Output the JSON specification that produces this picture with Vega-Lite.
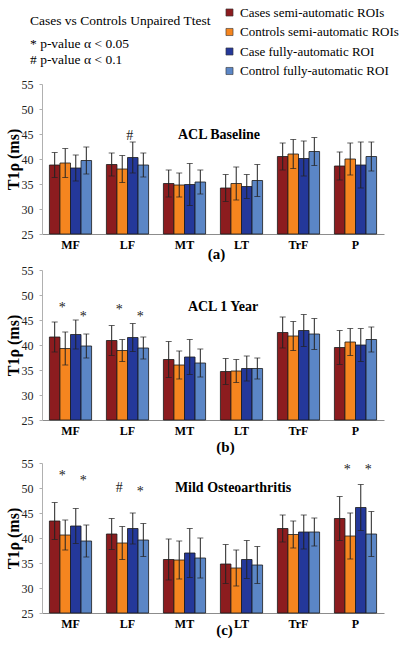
{
  "$schema": "https://vega.github.io/schema/vega-lite/v6.json",
  "padding": {"top": 6, "left": 5, "right": 5, "bottom": 5},
  "background": "white",
  "spacing": 3,
  "title": {"text": "Cases vs Controls Unpaired Ttest", "subtitle": ["*  p-value α < 0.05", "#  p-value α < 0.1"], "anchor": "start", "frame": "bounds", "dx": 25, "offset": -60, "font": "Liberation Serif", "fontSize": 13.5, "fontWeight": "normal", "color": "#000", "subtitleFont": "Liberation Serif", "subtitleFontSize": 13.5, "subtitleColor": "#000", "subtitlePadding": 9, "subtitleLineHeight": 16},
  "resolve": {"scale": {"color": "shared"}},
  "datasets": {
    "bars": [
      {"p":"a","r":"MF","s":"Cases semi-automatic ROIs","v":38.8,"lo":36.3,"hi":41.3},
      {"p":"a","r":"MF","s":"Controls semi-automatic ROIs","v":39.2,"lo":36.3,"hi":42.1},
      {"p":"a","r":"MF","s":"Case fully-automatic ROI","v":38.2,"lo":35.6,"hi":40.8},
      {"p":"a","r":"MF","s":"Control fully-automatic ROI","v":39.7,"lo":37.0,"hi":42.4},
      {"p":"a","r":"LF","s":"Cases semi-automatic ROIs","v":38.9,"lo":36.6,"hi":41.2},
      {"p":"a","r":"LF","s":"Controls semi-automatic ROIs","v":38.0,"lo":35.3,"hi":40.7},
      {"p":"a","r":"LF","s":"Case fully-automatic ROI","v":40.3,"lo":37.2,"hi":43.4},
      {"p":"a","r":"LF","s":"Control fully-automatic ROI","v":38.8,"lo":36.4,"hi":41.2},
      {"p":"a","r":"MT","s":"Cases semi-automatic ROIs","v":35.1,"lo":32.4,"hi":37.8},
      {"p":"a","r":"MT","s":"Controls semi-automatic ROIs","v":34.8,"lo":32.4,"hi":37.2},
      {"p":"a","r":"MT","s":"Case fully-automatic ROI","v":34.9,"lo":30.7,"hi":39.1},
      {"p":"a","r":"MT","s":"Control fully-automatic ROI","v":35.4,"lo":33.0,"hi":37.8},
      {"p":"a","r":"LT","s":"Cases semi-automatic ROIs","v":34.2,"lo":31.5,"hi":36.9},
      {"p":"a","r":"LT","s":"Controls semi-automatic ROIs","v":35.1,"lo":31.8,"hi":38.4},
      {"p":"a","r":"LT","s":"Case fully-automatic ROI","v":34.5,"lo":32.1,"hi":36.9},
      {"p":"a","r":"LT","s":"Control fully-automatic ROI","v":35.7,"lo":32.5,"hi":38.9},
      {"p":"a","r":"TrF","s":"Cases semi-automatic ROIs","v":40.5,"lo":37.8,"hi":43.2},
      {"p":"a","r":"TrF","s":"Controls semi-automatic ROIs","v":41.0,"lo":38.1,"hi":43.9},
      {"p":"a","r":"TrF","s":"Case fully-automatic ROI","v":40.1,"lo":36.6,"hi":43.6},
      {"p":"a","r":"TrF","s":"Control fully-automatic ROI","v":41.5,"lo":38.7,"hi":44.3},
      {"p":"a","r":"P","s":"Cases semi-automatic ROIs","v":38.6,"lo":35.8,"hi":41.4},
      {"p":"a","r":"P","s":"Controls semi-automatic ROIs","v":40.0,"lo":36.8,"hi":43.2},
      {"p":"a","r":"P","s":"Case fully-automatic ROI","v":38.8,"lo":34.2,"hi":43.4},
      {"p":"a","r":"P","s":"Control fully-automatic ROI","v":40.5,"lo":37.6,"hi":43.4},
      {"p":"b","r":"MF","s":"Cases semi-automatic ROIs","v":41.6,"lo":38.6,"hi":44.6},
      {"p":"b","r":"MF","s":"Controls semi-automatic ROIs","v":39.3,"lo":36.0,"hi":42.6},
      {"p":"b","r":"MF","s":"Case fully-automatic ROI","v":42.1,"lo":39.2,"hi":45.0},
      {"p":"b","r":"MF","s":"Control fully-automatic ROI","v":39.8,"lo":37.4,"hi":42.2},
      {"p":"b","r":"LF","s":"Cases semi-automatic ROIs","v":40.9,"lo":37.9,"hi":43.9},
      {"p":"b","r":"LF","s":"Controls semi-automatic ROIs","v":38.9,"lo":36.7,"hi":41.1},
      {"p":"b","r":"LF","s":"Case fully-automatic ROI","v":41.5,"lo":38.7,"hi":44.3},
      {"p":"b","r":"LF","s":"Control fully-automatic ROI","v":39.4,"lo":37.2,"hi":41.6},
      {"p":"b","r":"MT","s":"Cases semi-automatic ROIs","v":37.1,"lo":33.5,"hi":40.7},
      {"p":"b","r":"MT","s":"Controls semi-automatic ROIs","v":36.0,"lo":33.2,"hi":38.8},
      {"p":"b","r":"MT","s":"Case fully-automatic ROI","v":37.6,"lo":34.1,"hi":41.1},
      {"p":"b","r":"MT","s":"Control fully-automatic ROI","v":36.4,"lo":33.6,"hi":39.2},
      {"p":"b","r":"LT","s":"Cases semi-automatic ROIs","v":34.7,"lo":32.1,"hi":37.3},
      {"p":"b","r":"LT","s":"Controls semi-automatic ROIs","v":34.8,"lo":32.5,"hi":37.1},
      {"p":"b","r":"LT","s":"Case fully-automatic ROI","v":35.3,"lo":32.8,"hi":37.8},
      {"p":"b","r":"LT","s":"Control fully-automatic ROI","v":35.3,"lo":33.2,"hi":37.4},
      {"p":"b","r":"TrF","s":"Cases semi-automatic ROIs","v":42.5,"lo":39.4,"hi":45.6},
      {"p":"b","r":"TrF","s":"Controls semi-automatic ROIs","v":41.8,"lo":38.9,"hi":44.7},
      {"p":"b","r":"TrF","s":"Case fully-automatic ROI","v":42.9,"lo":39.7,"hi":46.1},
      {"p":"b","r":"TrF","s":"Control fully-automatic ROI","v":42.2,"lo":39.1,"hi":45.3},
      {"p":"b","r":"P","s":"Cases semi-automatic ROIs","v":39.5,"lo":36.1,"hi":42.9},
      {"p":"b","r":"P","s":"Controls semi-automatic ROIs","v":40.6,"lo":37.9,"hi":43.3},
      {"p":"b","r":"P","s":"Case fully-automatic ROI","v":40.0,"lo":36.7,"hi":43.3},
      {"p":"b","r":"P","s":"Control fully-automatic ROI","v":41.1,"lo":38.6,"hi":43.6},
      {"p":"c","r":"MF","s":"Cases semi-automatic ROIs","v":43.4,"lo":39.7,"hi":47.1},
      {"p":"c","r":"MF","s":"Controls semi-automatic ROIs","v":40.6,"lo":37.6,"hi":43.6},
      {"p":"c","r":"MF","s":"Case fully-automatic ROI","v":42.4,"lo":38.9,"hi":45.9},
      {"p":"c","r":"MF","s":"Control fully-automatic ROI","v":39.4,"lo":36.2,"hi":42.6},
      {"p":"c","r":"LF","s":"Cases semi-automatic ROIs","v":40.8,"lo":37.7,"hi":43.9},
      {"p":"c","r":"LF","s":"Controls semi-automatic ROIs","v":39.0,"lo":35.7,"hi":42.3},
      {"p":"c","r":"LF","s":"Case fully-automatic ROI","v":41.9,"lo":38.8,"hi":45.0},
      {"p":"c","r":"LF","s":"Control fully-automatic ROI","v":39.6,"lo":36.3,"hi":42.9},
      {"p":"c","r":"MT","s":"Cases semi-automatic ROIs","v":35.7,"lo":31.6,"hi":39.8},
      {"p":"c","r":"MT","s":"Controls semi-automatic ROIs","v":35.6,"lo":31.8,"hi":39.4},
      {"p":"c","r":"MT","s":"Case fully-automatic ROI","v":37.0,"lo":32.1,"hi":41.9},
      {"p":"c","r":"MT","s":"Control fully-automatic ROI","v":36.0,"lo":32.0,"hi":40.0},
      {"p":"c","r":"LT","s":"Cases semi-automatic ROIs","v":34.8,"lo":30.9,"hi":38.7},
      {"p":"c","r":"LT","s":"Controls semi-automatic ROIs","v":34.0,"lo":30.4,"hi":37.6},
      {"p":"c","r":"LT","s":"Case fully-automatic ROI","v":35.7,"lo":31.9,"hi":39.5},
      {"p":"c","r":"LT","s":"Control fully-automatic ROI","v":34.6,"lo":30.9,"hi":38.3},
      {"p":"c","r":"TrF","s":"Cases semi-automatic ROIs","v":41.9,"lo":39.2,"hi":44.6},
      {"p":"c","r":"TrF","s":"Controls semi-automatic ROIs","v":40.7,"lo":38.0,"hi":43.4},
      {"p":"c","r":"TrF","s":"Case fully-automatic ROI","v":41.2,"lo":37.8,"hi":44.6},
      {"p":"c","r":"TrF","s":"Control fully-automatic ROI","v":41.2,"lo":38.4,"hi":44.0},
      {"p":"c","r":"P","s":"Cases semi-automatic ROIs","v":43.9,"lo":39.5,"hi":48.3},
      {"p":"c","r":"P","s":"Controls semi-automatic ROIs","v":40.4,"lo":35.8,"hi":45.0},
      {"p":"c","r":"P","s":"Case fully-automatic ROI","v":46.1,"lo":41.5,"hi":50.7},
      {"p":"c","r":"P","s":"Control fully-automatic ROI","v":40.8,"lo":36.3,"hi":45.3}
    ],
    "notes": [
      {"p":"a","r":"LF","s":"Case fully-automatic ROI","y":44.7,"t":"#"},
      {"p":"b","r":"MF","s":"Controls semi-automatic ROIs","y":47.4,"t":"*"},
      {"p":"b","r":"MF","s":"Control fully-automatic ROI","y":45.7,"t":"*"},
      {"p":"b","r":"LF","s":"Controls semi-automatic ROIs","y":47.0,"t":"*"},
      {"p":"b","r":"LF","s":"Control fully-automatic ROI","y":45.6,"t":"*"},
      {"p":"c","r":"MF","s":"Controls semi-automatic ROIs","y":52.4,"t":"*"},
      {"p":"c","r":"MF","s":"Control fully-automatic ROI","y":51.5,"t":"*"},
      {"p":"c","r":"LF","s":"Controls semi-automatic ROIs","y":50.0,"t":"#"},
      {"p":"c","r":"LF","s":"Control fully-automatic ROI","y":49.2,"t":"*"},
      {"p":"c","r":"P","s":"Controls semi-automatic ROIs","y":53.7,"t":"*"},
      {"p":"c","r":"P","s":"Control fully-automatic ROI","y":53.7,"t":"*"}
    ]
  },
  "vconcat": [
    {
      "width": 342, "height": 150,
      "title": {"text": "ACL  Baseline", "offset": -64, "dx": 6, "anchor": "middle", "frame": "group", "font": "Liberation Serif", "fontSize": 14, "fontWeight": "bold", "color": "#000"},
      "layer": [
        {"data": {"name": "bars"}, "transform": [{"filter": "datum.p === 'a'"}],
         "mark": {"type": "bar", "stroke": "#1a1a1a", "strokeWidth": 0.8},
         "encoding": {
           "x": {"field": "r", "type": "nominal", "sort": ["MF","LF","MT","LT","TrF","P"], "scale": {"paddingInner": 0.26, "paddingOuter": 0.13}, "axis": {"title": "(a)", "titleX": 174, "titlePadding": -4}},
           "xOffset": {"field": "s", "type": "nominal", "scale": {"domain": ["Cases semi-automatic ROIs","Controls semi-automatic ROIs","Case fully-automatic ROI","Control fully-automatic ROI"]}},
           "y": {"field": "v", "type": "quantitative", "scale": {"domain": [25, 55], "nice": false, "zero": false}, "axis": {"title": "T1ρ (ms)", "values": [25,30,35,40,45,50,55], "tickCount": 7, "labelOverlap": false, "labelBound": false}},
           "y2": {"datum": 25},
           "color": {"field": "s", "type": "nominal", "scale": {"domain": ["Cases semi-automatic ROIs","Controls semi-automatic ROIs","Case fully-automatic ROI","Control fully-automatic ROI"], "range": ["#8c1c1f","#f5851f","#24389a","#5b86c6"]},
             "legend": {"orient": "none", "legendX": 181, "legendY": -78, "title": null, "symbolType": "square", "symbolSize": 50, "symbolStrokeColor": "#333", "symbolStrokeWidth": 0.6, "labelFont": "Liberation Serif", "labelFontSize": 13, "labelColor": "#000", "rowPadding": 5.5, "labelOffset": 4, "padding": 0, "labelLimit": 250}}
         }},
        {"data": {"name": "bars"}, "transform": [{"filter": "datum.p === 'a'"}],
         "mark": {"type": "rule", "color": "#222", "strokeWidth": 1},
         "encoding": {"x": {"field": "r", "type": "nominal", "sort": ["MF","LF","MT","LT","TrF","P"]}, "xOffset": {"field": "s", "type": "nominal"}, "y": {"field": "lo", "type": "quantitative", "axis": {"title": "T1ρ (ms)", "values": [25,30,35,40,45,50,55], "tickCount": 7, "labelOverlap": false, "labelBound": false}}, "y2": {"field": "hi"}}},
        {"data": {"name": "bars"}, "transform": [{"filter": "datum.p === 'a'"}],
         "mark": {"type": "tick", "color": "#222", "thickness": 1, "size": 6},
         "encoding": {"x": {"field": "r", "type": "nominal", "sort": ["MF","LF","MT","LT","TrF","P"]}, "xOffset": {"field": "s", "type": "nominal"}, "y": {"field": "lo", "type": "quantitative", "axis": {"title": "T1ρ (ms)", "values": [25,30,35,40,45,50,55], "tickCount": 7, "labelOverlap": false, "labelBound": false}}}},
        {"data": {"name": "bars"}, "transform": [{"filter": "datum.p === 'a'"}],
         "mark": {"type": "tick", "color": "#222", "thickness": 1, "size": 6},
         "encoding": {"x": {"field": "r", "type": "nominal", "sort": ["MF","LF","MT","LT","TrF","P"]}, "xOffset": {"field": "s", "type": "nominal"}, "y": {"field": "hi", "type": "quantitative", "axis": {"title": "T1ρ (ms)", "values": [25,30,35,40,45,50,55], "tickCount": 7, "labelOverlap": false, "labelBound": false}}}},
        {"data": {"name": "notes"}, "transform": [{"filter": "datum.p === 'a'"}],
         "mark": {"type": "text", "font": "Liberation Serif", "fontSize": 14, "dx": -3, "baseline": "middle", "color": "#222"},
         "encoding": {"x": {"field": "r", "type": "nominal", "sort": ["MF","LF","MT","LT","TrF","P"]}, "xOffset": {"field": "s", "type": "nominal"}, "y": {"field": "y", "type": "quantitative", "axis": {"title": "T1ρ (ms)", "values": [25,30,35,40,45,50,55], "tickCount": 7, "labelOverlap": false, "labelBound": false}}, "text": {"field": "t"}}}
      ]
    },
    {
      "width": 342, "height": 150,
      "title": {"text": "ACL  1 Year", "offset": -50, "dx": 10, "anchor": "middle", "frame": "group", "font": "Liberation Serif", "fontSize": 14, "fontWeight": "bold", "color": "#000"},
      "layer": [
        {"data": {"name": "bars"}, "transform": [{"filter": "datum.p === 'b'"}],
         "mark": {"type": "bar", "stroke": "#1a1a1a", "strokeWidth": 0.8},
         "encoding": {
           "x": {"field": "r", "type": "nominal", "sort": ["MF","LF","MT","LT","TrF","P"], "scale": {"paddingInner": 0.26, "paddingOuter": 0.13}, "axis": {"title": "(b)", "titleX": 183, "titlePadding": 3}},
           "xOffset": {"field": "s", "type": "nominal", "scale": {"domain": ["Cases semi-automatic ROIs","Controls semi-automatic ROIs","Case fully-automatic ROI","Control fully-automatic ROI"]}},
           "y": {"field": "v", "type": "quantitative", "scale": {"domain": [25, 55], "nice": false, "zero": false}, "axis": {"title": "T1ρ (ms)", "values": [25,30,35,40,45,50,55], "tickCount": 7, "labelOverlap": false, "labelBound": false}},
           "y2": {"datum": 25},
           "color": {"field": "s", "type": "nominal", "scale": {"domain": ["Cases semi-automatic ROIs","Controls semi-automatic ROIs","Case fully-automatic ROI","Control fully-automatic ROI"], "range": ["#8c1c1f","#f5851f","#24389a","#5b86c6"]},
             "legend": {"orient": "none", "legendX": 181, "legendY": -78, "title": null, "symbolType": "square", "symbolSize": 50, "symbolStrokeColor": "#333", "symbolStrokeWidth": 0.6, "labelFont": "Liberation Serif", "labelFontSize": 13, "labelColor": "#000", "rowPadding": 5.5, "labelOffset": 4, "padding": 0, "labelLimit": 250}}
         }},
        {"data": {"name": "bars"}, "transform": [{"filter": "datum.p === 'b'"}],
         "mark": {"type": "rule", "color": "#222", "strokeWidth": 1},
         "encoding": {"x": {"field": "r", "type": "nominal", "sort": ["MF","LF","MT","LT","TrF","P"]}, "xOffset": {"field": "s", "type": "nominal"}, "y": {"field": "lo", "type": "quantitative", "axis": {"title": "T1ρ (ms)", "values": [25,30,35,40,45,50,55], "tickCount": 7, "labelOverlap": false, "labelBound": false}}, "y2": {"field": "hi"}}},
        {"data": {"name": "bars"}, "transform": [{"filter": "datum.p === 'b'"}],
         "mark": {"type": "tick", "color": "#222", "thickness": 1, "size": 6},
         "encoding": {"x": {"field": "r", "type": "nominal", "sort": ["MF","LF","MT","LT","TrF","P"]}, "xOffset": {"field": "s", "type": "nominal"}, "y": {"field": "lo", "type": "quantitative", "axis": {"title": "T1ρ (ms)", "values": [25,30,35,40,45,50,55], "tickCount": 7, "labelOverlap": false, "labelBound": false}}}},
        {"data": {"name": "bars"}, "transform": [{"filter": "datum.p === 'b'"}],
         "mark": {"type": "tick", "color": "#222", "thickness": 1, "size": 6},
         "encoding": {"x": {"field": "r", "type": "nominal", "sort": ["MF","LF","MT","LT","TrF","P"]}, "xOffset": {"field": "s", "type": "nominal"}, "y": {"field": "hi", "type": "quantitative", "axis": {"title": "T1ρ (ms)", "values": [25,30,35,40,45,50,55], "tickCount": 7, "labelOverlap": false, "labelBound": false}}}},
        {"data": {"name": "notes"}, "transform": [{"filter": "datum.p === 'b'"}],
         "mark": {"type": "text", "font": "Liberation Serif", "fontSize": 14, "dx": -3, "baseline": "middle", "color": "#222"},
         "encoding": {"x": {"field": "r", "type": "nominal", "sort": ["MF","LF","MT","LT","TrF","P"]}, "xOffset": {"field": "s", "type": "nominal"}, "y": {"field": "y", "type": "quantitative", "axis": {"title": "T1ρ (ms)", "values": [25,30,35,40,45,50,55], "tickCount": 7, "labelOverlap": false, "labelBound": false}}, "text": {"field": "t"}}}
      ]
    },
    {
      "width": 342, "height": 150,
      "title": {"text": "Mild Osteoarthritis", "offset": -38, "dx": 20, "anchor": "middle", "frame": "group", "font": "Liberation Serif", "fontSize": 14, "fontWeight": "bold", "color": "#000"},
      "layer": [
        {"data": {"name": "bars"}, "transform": [{"filter": "datum.p === 'c'"}],
         "mark": {"type": "bar", "stroke": "#1a1a1a", "strokeWidth": 0.8},
         "encoding": {
           "x": {"field": "r", "type": "nominal", "sort": ["MF","LF","MT","LT","TrF","P"], "scale": {"paddingInner": 0.26, "paddingOuter": 0.13}, "axis": {"title": "(c)", "titleX": 182, "titlePadding": -7}},
           "xOffset": {"field": "s", "type": "nominal", "scale": {"domain": ["Cases semi-automatic ROIs","Controls semi-automatic ROIs","Case fully-automatic ROI","Control fully-automatic ROI"]}},
           "y": {"field": "v", "type": "quantitative", "scale": {"domain": [25, 55], "nice": false, "zero": false}, "axis": {"title": "T1ρ (ms)", "values": [25,30,35,40,45,50,55], "tickCount": 7, "labelOverlap": false, "labelBound": false}},
           "y2": {"datum": 25},
           "color": {"field": "s", "type": "nominal", "scale": {"domain": ["Cases semi-automatic ROIs","Controls semi-automatic ROIs","Case fully-automatic ROI","Control fully-automatic ROI"], "range": ["#8c1c1f","#f5851f","#24389a","#5b86c6"]},
             "legend": {"orient": "none", "legendX": 181, "legendY": -78, "title": null, "symbolType": "square", "symbolSize": 50, "symbolStrokeColor": "#333", "symbolStrokeWidth": 0.6, "labelFont": "Liberation Serif", "labelFontSize": 13, "labelColor": "#000", "rowPadding": 5.5, "labelOffset": 4, "padding": 0, "labelLimit": 250}}
         }},
        {"data": {"name": "bars"}, "transform": [{"filter": "datum.p === 'c'"}],
         "mark": {"type": "rule", "color": "#222", "strokeWidth": 1},
         "encoding": {"x": {"field": "r", "type": "nominal", "sort": ["MF","LF","MT","LT","TrF","P"]}, "xOffset": {"field": "s", "type": "nominal"}, "y": {"field": "lo", "type": "quantitative", "axis": {"title": "T1ρ (ms)", "values": [25,30,35,40,45,50,55], "tickCount": 7, "labelOverlap": false, "labelBound": false}}, "y2": {"field": "hi"}}},
        {"data": {"name": "bars"}, "transform": [{"filter": "datum.p === 'c'"}],
         "mark": {"type": "tick", "color": "#222", "thickness": 1, "size": 6},
         "encoding": {"x": {"field": "r", "type": "nominal", "sort": ["MF","LF","MT","LT","TrF","P"]}, "xOffset": {"field": "s", "type": "nominal"}, "y": {"field": "lo", "type": "quantitative", "axis": {"title": "T1ρ (ms)", "values": [25,30,35,40,45,50,55], "tickCount": 7, "labelOverlap": false, "labelBound": false}}}},
        {"data": {"name": "bars"}, "transform": [{"filter": "datum.p === 'c'"}],
         "mark": {"type": "tick", "color": "#222", "thickness": 1, "size": 6},
         "encoding": {"x": {"field": "r", "type": "nominal", "sort": ["MF","LF","MT","LT","TrF","P"]}, "xOffset": {"field": "s", "type": "nominal"}, "y": {"field": "hi", "type": "quantitative", "axis": {"title": "T1ρ (ms)", "values": [25,30,35,40,45,50,55], "tickCount": 7, "labelOverlap": false, "labelBound": false}}}},
        {"data": {"name": "notes"}, "transform": [{"filter": "datum.p === 'c'"}],
         "mark": {"type": "text", "font": "Liberation Serif", "fontSize": 14, "dx": -3, "baseline": "middle", "color": "#222"},
         "encoding": {"x": {"field": "r", "type": "nominal", "sort": ["MF","LF","MT","LT","TrF","P"]}, "xOffset": {"field": "s", "type": "nominal"}, "y": {"field": "y", "type": "quantitative", "axis": {"title": "T1ρ (ms)", "values": [25,30,35,40,45,50,55], "tickCount": 7, "labelOverlap": false, "labelBound": false}}, "text": {"field": "t"}}}
      ]
    }
  ],
  "config": {
    "view": {"stroke": null},
    "axisX": {"domainColor": "#8c8c8c", "ticks": false, "labelFont": "Liberation Serif", "labelFontSize": 12, "labelFontWeight": "bold", "labelColor": "#000", "labelPadding": 5, "labelAngle": 0, "titleFont": "Liberation Serif", "titleFontSize": 15, "titleFontWeight": "bold", "titleColor": "#000"},
    "axisY": {"domainColor": "#b0b0b0", "tickColor": "#b0b0b0", "tickSize": 3, "grid": false, "labelFont": "Liberation Serif", "labelFontSize": 12, "labelColor": "#222", "labelPadding": 6, "labelOverlap": false, "titleFont": "Liberation Serif", "titleFontSize": 16, "titleFontWeight": "bold", "titleColor": "#000", "titlePadding": 0}
  }
}
